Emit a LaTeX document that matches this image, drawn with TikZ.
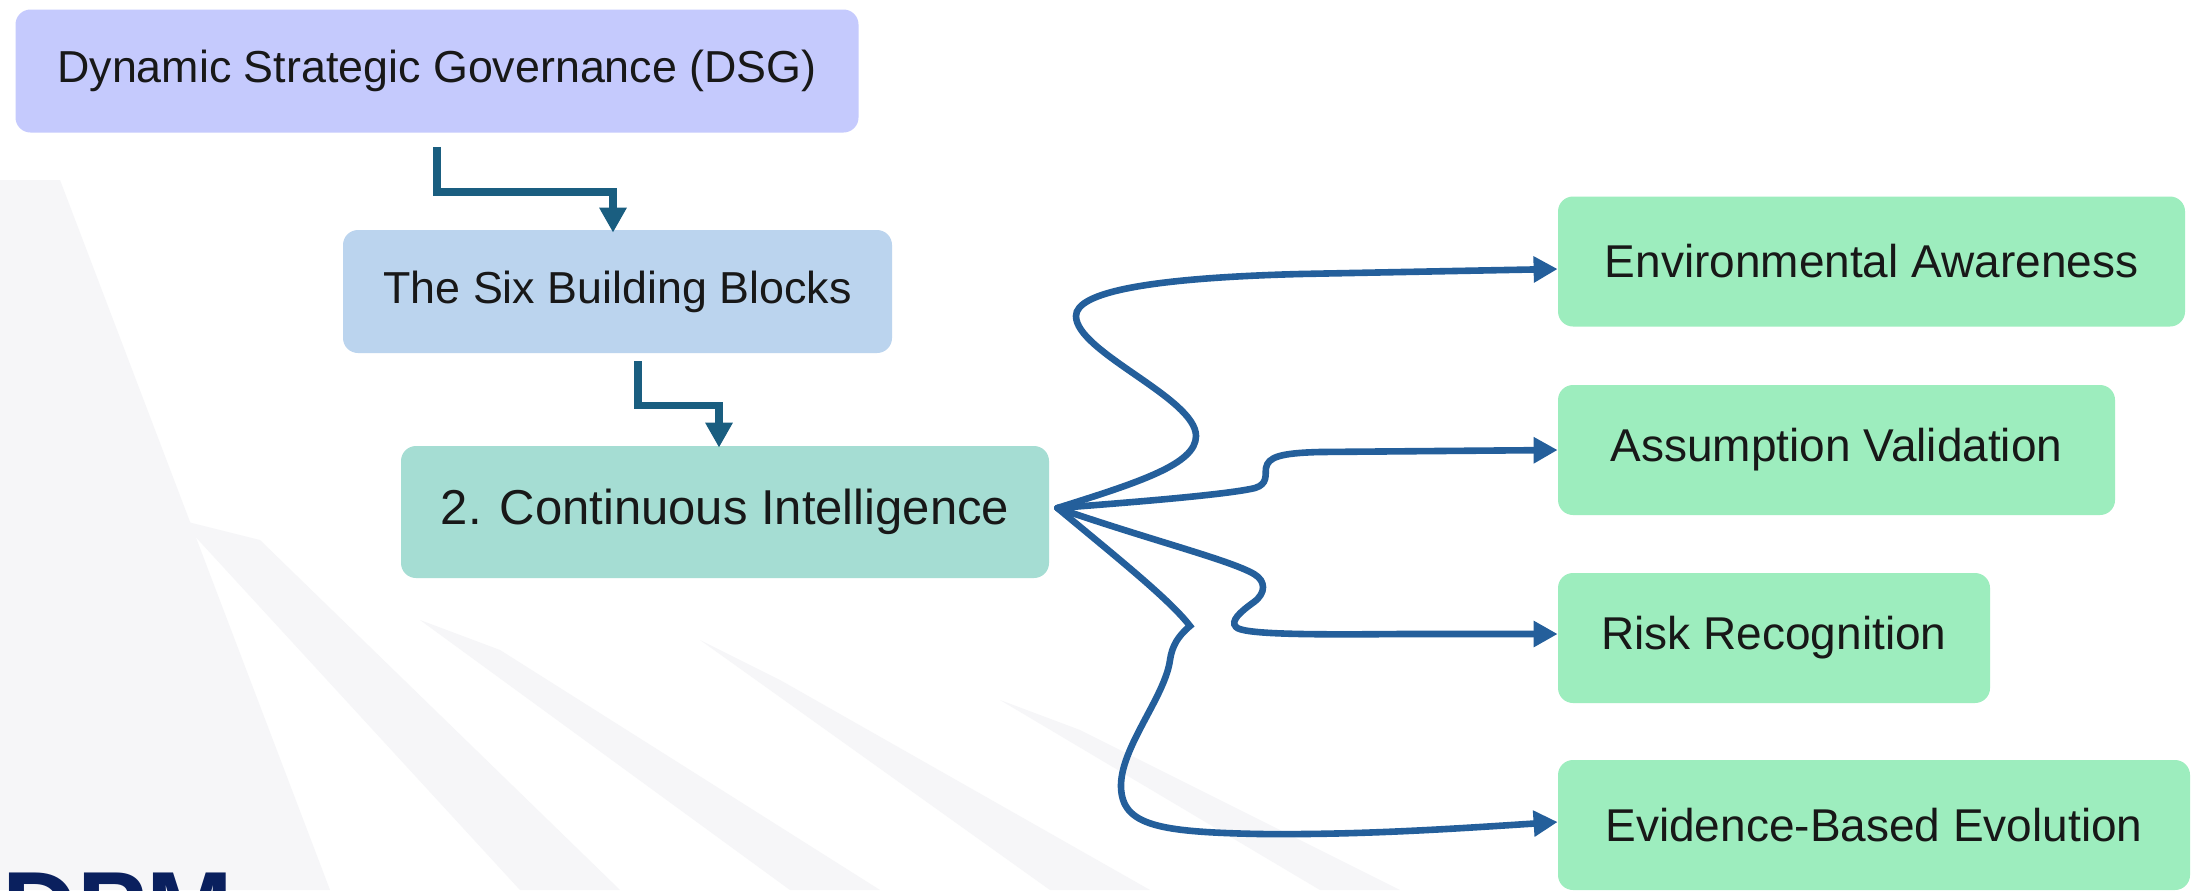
\documentclass[tikz,border=0pt]{standalone}
\usepackage{fontspec}
\setmainfont{Liberation Sans}
\usetikzlibrary{arrows.meta}
\definecolor{dsgfill}{RGB}{197,202,253}
\definecolor{sbbfill}{RGB}{187,212,238}
\definecolor{cifill}{RGB}{165,221,211}
\definecolor{leaffill}{RGB}{157,237,190}
\definecolor{flowteal}{RGB}{26,94,128}
\definecolor{curveblue}{RGB}{36,95,155}
\definecolor{logonavy}{RGB}{10,32,94}
\definecolor{shardgray}{RGB}{246,246,248}
\definecolor{txt}{RGB}{24,24,24}
\begin{document}
\begin{tikzpicture}[x=0.5pt,y=-0.5pt,
  box/.style={rounded corners=7.5pt, inner sep=0pt, text=txt},
  lbl/.style={font=\fontsize{22.4pt}{26pt}\selectfont},
  leaf/.style={box, fill=leaffill, minimum height=65pt, font=\fontsize{23pt}{27pt}\selectfont},
  flow/.style={draw=flowteal, line width=3.9pt, line join=miter, -{Triangle[length=12.5pt,width=13pt]}},
  curve/.style={draw=curveblue, line width=3.3pt, line cap=round, -{Triangle[length=12pt,width=12.5pt]}},
  shard/.style={fill=shardgray, draw=none}
]
\useasboundingbox (0,0) rectangle (2193,890);
\fill[white] (0,0) rectangle (2193,890);
% faint background shards
\fill[shard] (0,180) -- (60,180) -- (330,890) -- (0,890) -- cycle;
\fill[shard] (180,520) -- (260,540) -- (620,890) -- (520,890) -- cycle;
\fill[shard] (420,620) -- (500,650) -- (880,890) -- (790,890) -- cycle;
\fill[shard] (700,640) -- (780,680) -- (1150,890) -- (1050,890) -- cycle;
\fill[shard] (1000,700) -- (1080,730) -- (1400,890) -- (1320,890) -- cycle;
\fill[white] (0,0) rectangle (867,144);
% logo fragment
\begin{scope}
\clip (0,0) rectangle (2193,890);
\node[anchor=north west, inner sep=0pt, text=logonavy, font=\fontsize{52pt}{52pt}\bfseries\selectfont] (logo) at (2,873) {DPM};
\end{scope}
% nodes
\node[box, lbl, fill=dsgfill, minimum width=421.5pt, minimum height=61.5pt] (dsg) at (437,71) {Dynamic Strategic Governance (DSG)};
\node[box, lbl, fill=sbbfill, minimum width=274.5pt, minimum height=61.5pt] (sbb) at (617.5,291.5) {The Six Building Blocks};
\node[box, fill=cifill, minimum width=324pt, minimum height=66pt, font=\fontsize{24.5pt}{28pt}\selectfont] (ci) at (725,512) {2. Continuous Intelligence};
\node[leaf, minimum width=313.5pt] (ea) at (1871.5,261.5) {Environmental Awareness};
\node[leaf, minimum width=278.5pt] (av) at (1836.5,450) {Assumption Validation};
\node[leaf, minimum width=216pt] (rr) at (1774,638) {Risk Recognition};
\node[leaf, minimum width=316pt] (ebe) at (1874,825) {Evidence-Based Evolution};
% orthogonal connectors
\draw[flow] ([xshift=0pt,yshift=-7pt]dsg.south) -- ++(0,-22.5pt) -| ([xshift=-2.25pt,yshift=-1.5pt]sbb.north);
\draw[flow] ([xshift=10.25pt,yshift=-4pt]sbb.south) -- ++(0,-22pt) -| ([xshift=-3pt,yshift=-1pt]ci.north);
% curved connectors
\coordinate (src) at ([xshift=4pt,yshift=2pt]ci.east);
\draw[curve] (src) .. controls (1140,482) and (1196,464) .. (1196,436)
  .. controls (1196,398) and (1076,352) .. (1076,316)
  .. controls (1076,292) and (1150,278) .. (1300,274)
  -- ([yshift=-3.75pt]ea.west);
\draw[curve] (src) .. controls (1150,501) and (1230,494) .. (1255,488)
  .. controls (1268,484) and (1265,475) .. (1266,468)
  .. controls (1268,457) and (1280,453) .. (1320,452)
  -- (av.west);
\draw[curve] (src) .. controls (1150,540) and (1230,560) .. (1254,574)
  .. controls (1266,581) and (1266,593) .. (1254,602)
  .. controls (1240,612) and (1230,621) .. (1236,627)
  .. controls (1242,634) and (1300,635) .. (1400,634)
  -- ([yshift=2pt]rr.west);
\draw[curve] (src) .. controls (1120,560) and (1170,600) .. (1190,626)
  .. controls (1178,636) and (1172,646) .. (1170,660)
  .. controls (1165,697) and (1120,748) .. (1121,787)
  .. controls (1122,826) and (1160,832) .. (1260,834)
  .. controls (1360,835) and (1450,829) .. ([yshift=1.5pt]ebe.west);
\end{tikzpicture}
\end{document}
